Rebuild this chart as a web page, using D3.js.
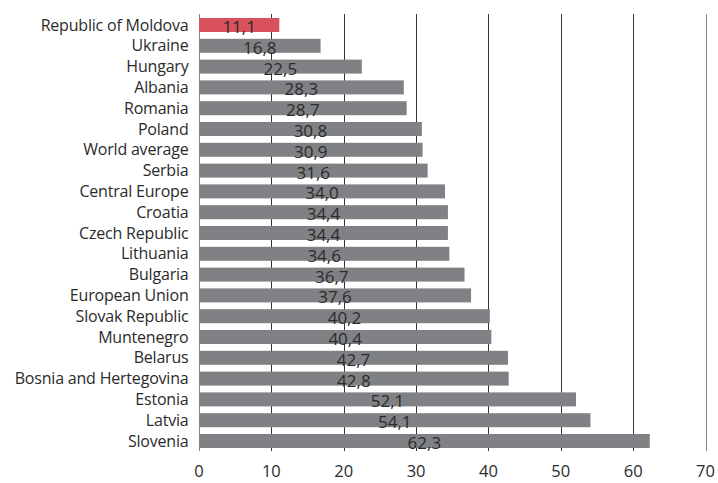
<!DOCTYPE html>
<html>
<head>
<meta charset="utf-8">
<script src="https://cdn.jsdelivr.net/npm/d3@7"></script>
<style>
  body { margin: 0; background: #fff; }
  svg text { font-family: "Open Sans", sans-serif; fill: #2b2b2b; }
</style>
</head>
<body>
<svg id="chart"></svg>
<script>
const countries = ['Republic of Moldova', 'Ukraine', 'Hungary', 'Albania', 'Romania', 'Poland',
  'World average', 'Serbia', 'Central Europe', 'Croatia', 'Czech Republic', 'Lithuania', 'Bulgaria',
  'European Union', 'Slovak Republic', 'Muntenegro', 'Belarus', 'Bosnia and Hertegovina',
  'Estonia', 'Latvia', 'Slovenia'];
const values = [11.1, 16.8, 22.5, 28.3, 28.7, 30.8, 30.9, 31.6, 34.0, 34.4, 34.4, 34.6, 36.7,
  37.6, 40.2, 40.4, 42.7, 42.8, 52.1, 54.1, 62.3];
const xTicks = [0, 10, 20, 30, 40, 50, 60, 70];

const width = 718;
const height = 483;

const data = countries.map((c, i) => ({ name: c, value: values[i] }));

const svg = d3.select('#chart')
    .attr('width', width)
    .attr('height', height);

const x = d3.scaleLinear().domain([0, 70]).range([199, 705.5]);
const y = d3.scaleBand()
    .domain(countries)
    .range([18, 448])
    .paddingInner(0.327)
    .paddingOuter(0);

// grid lines
svg.append('g')
    .selectAll('line')
    .data(xTicks)
    .enter().append('line')
    .attr('x1', d => Math.round(x(d)) + 0.5)
    .attr('x2', d => Math.round(x(d)) + 0.5)
    .attr('y1', 14)
    .attr('y2', 451)
    .style('stroke', d => (d === 0 || d === 70) ? '#8a8a8a' : '#333')
    .style('stroke-width', 1);

// bars
svg.append('g')
    .selectAll('rect')
    .data(data)
    .enter().append('rect')
    .attr('x', x(0))
    .attr('y', d => y(d.name))
    .attr('width', d => x(d.value) - x(0))
    .attr('height', y.bandwidth())
    .style('fill', (d, i) => i === 0 ? '#d9515b' : '#808184');

// value labels
svg.append('g')
    .selectAll('text')
    .data(data)
    .enter().append('text')
    .attr('x', d => (x(0) + x(d.value)) / 2)
    .attr('y', d => y(d.name) + y.bandwidth() / 2 + 2)
    .attr('dy', '0.35em')
    .attr('text-anchor', 'middle')
    .style('font-size', '17px')
    .text(d => d.value.toFixed(1).replace('.', ','));

// category labels
svg.append('g')
    .selectAll('text')
    .data(data)
    .enter().append('text')
    .attr('x', 188.5)
    .attr('y', d => y(d.name) + y.bandwidth() / 2)
    .attr('dy', '0.35em')
    .attr('text-anchor', 'end')
    .style('font-size', '16px')
    .style('letter-spacing', '-0.2px')
    .text(d => d.name);

// x tick labels
svg.append('g')
    .selectAll('text')
    .data(xTicks)
    .enter().append('text')
    .attr('x', d => x(d))
    .attr('y', 477)
    .attr('text-anchor', 'middle')
    .style('font-size', '16.5px')
    .text(d => d);
</script>
</body>
</html>
